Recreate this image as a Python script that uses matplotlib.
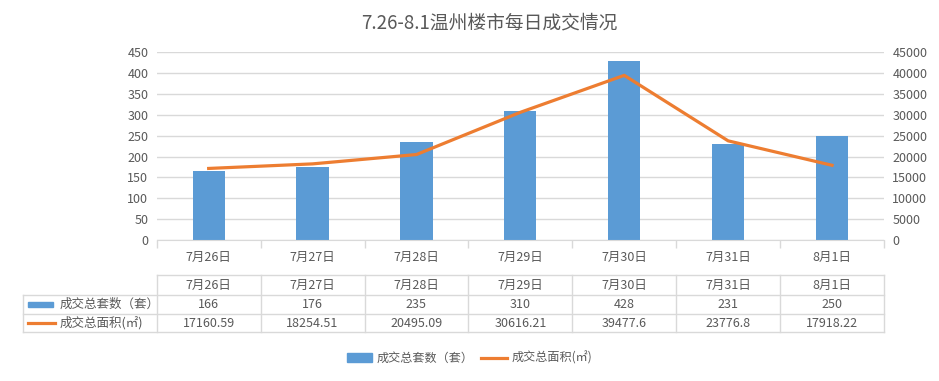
import matplotlib
matplotlib.use('Agg')
import matplotlib.pyplot as plt
import matplotlib.transforms as mtransforms
from matplotlib.patches import Rectangle
from matplotlib.lines import Line2D

plt.rcParams['font.family'] = ['Noto Sans CJK SC', 'DejaVu Sans']

days = ['7月26日', '7月27日', '7月28日', '7月29日', '7月30日', '7月31日', '8月1日']
units = [166, 176, 235, 310, 428, 231, 250]
area = [17160.59, 18254.51, 20495.09, 30616.21, 39477.6, 23776.8, 17918.22]
area_labels = ['17160.59', '18254.51', '20495.09', '30616.21', '39477.6', '23776.8', '17918.22']
units_name = '成交总套数（套）'
area_name = '成交总面积(㎡)'

blue = '#5B9BD5'
orange = '#ED7D31'
txt = '#595959'
grid = '#D9D9D9'

fig = plt.figure(figsize=(9.39, 3.81), dpi=100)
ax = fig.add_axes([0.1669, 0.37, 0.7745, 0.4927])
ax2 = ax.twinx()

x = list(range(len(days)))
ax.bar(x, units, width=0.31, color=blue, zorder=2)
ax2.plot(x, area, color=orange, linewidth=2.3, zorder=3)

ax.set_xlim(-0.5, len(days) - 0.5)
ax.set_ylim(0, 450)
ax.set_yticks(range(0, 451, 50))
ax2.set_ylim(0, 45000)
ax2.set_yticks(range(0, 45001, 5000))

ax.yaxis.grid(True, color=grid, linewidth=1)
ax.set_axisbelow(True)
for a in (ax, ax2):
    for s in a.spines.values():
        s.set_visible(False)
    a.tick_params(axis='y', length=0, labelsize=9, labelcolor=txt, pad=6)
ax.spines['bottom'].set_visible(True)
ax.spines['bottom'].set_color(grid)

ax.set_xticks(x)
ax.set_xticklabels(days)
ax.set_xticks([i - 0.5 for i in range(len(days) + 1)], minor=True)
ax.tick_params(axis='x', which='major', length=0, labelsize=9, labelcolor=txt, pad=8)
ax.tick_params(axis='x', which='minor', length=6, color=grid, width=1)

fig.text(0.521, 0.94, '7.26-8.1温州楼市每日成交情况', ha='center', va='center',
         fontsize=13.5, color=txt)

# data table below the axis: x in data units, y in axes units
tr = mtransforms.blended_transform_factory(ax.transData, ax.transAxes)
n = len(days)
left = -0.5 - 134 / 104
rows_y = [-0.1865, -0.293, -0.394, -0.49]

def seg(xs, ys):
    ax.add_line(Line2D(xs, ys, transform=tr, color=grid, linewidth=1, clip_on=False))

seg([-0.5, n - 0.5], [rows_y[0], rows_y[0]])
for yy in rows_y[1:]:
    seg([left, n - 0.5], [yy, yy])
for i in range(n + 1):
    seg([i - 0.5, i - 0.5], [rows_y[0], rows_y[3]])
seg([left, left], [rows_y[1], rows_y[3]])

row_vals = [days, [str(v) for v in units], area_labels]
for r, vals in enumerate(row_vals):
    yc = (rows_y[r] + rows_y[r + 1]) / 2
    for i, v in enumerate(vals):
        ax.text(i, yc, v, transform=tr, ha='center', va='center',
                fontsize=9, color=txt, clip_on=False)

for r, name in ((1, units_name), (2, area_name)):
    yc = (rows_y[r] + rows_y[r + 1]) / 2
    ax.text(left + 0.35, yc, name, transform=tr, ha='left', va='center',
            fontsize=9, color=txt, clip_on=False)

ax.add_patch(Rectangle((left + 0.05, -0.358), 0.24, 0.03, transform=tr,
                       color=blue, clip_on=False))
yc = (rows_y[2] + rows_y[3]) / 2
ax.add_line(Line2D([left + 0.05, left + 0.31], [yc, yc], transform=tr,
                   color=orange, linewidth=2.3, clip_on=False))

handles = [Rectangle((0, 0), 1, 1, color=blue),
           Line2D([0], [0], color=orange, linewidth=2.3)]
fig.legend(handles, [units_name, area_name], loc='center', ncol=2,
           bbox_to_anchor=(0.5, 0.06), frameon=False, fontsize=8.7,
           labelcolor=txt, handlelength=2.1, handleheight=0.7,
           columnspacing=0.6, handletextpad=0.4)

fig.savefig('out.png', dpi=100)
